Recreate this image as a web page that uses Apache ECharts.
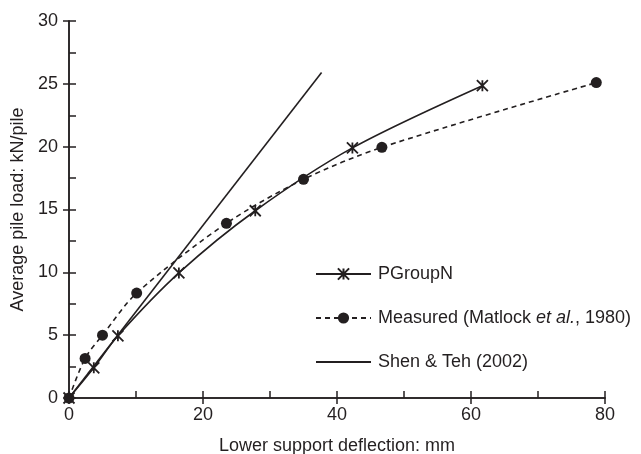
<!DOCTYPE html>
<html>
<head>
<meta charset="utf-8">
<script src="https://cdn.jsdelivr.net/npm/echarts@6/dist/echarts.min.js"></script>
<style>
  html, body { margin: 0; padding: 0; background: #fff; }
  #chart { width: 641px; height: 454px; }
</style>
</head>
<body>
<div id="chart"></div>
<script>
// PGroupN (solid line, asterisks)
const pgroupX = [0, 3.7, 7.3, 16.4, 27.8, 42.3, 61.7]
const pgroupY = [0, 2.4, 4.95, 9.95, 14.9, 19.9, 24.85]
// Measured (Matlock et al., 1980) - dashed, dots
const measX = [0, 2.4, 5.0, 10.1, 23.5, 35.0, 46.7, 78.7]
const measY = [0, 3.15, 5.0, 8.35, 13.9, 17.4, 19.95, 25.1]
// Shen & Teh (2002) - straight line
const shenX = [0, 37.7]
const shenY = [0, 25.9]

const names = ['PGroupN', 'Measured (Matlock et al., 1980)', 'Shen & Teh (2002)']
const ink = '#231f20'
const font = 'Liberation Sans, Arial, sans-serif'
const fs = 18

const pair = (xs, ys) => xs.map((x, i) => [x, ys[i]])
const asterisk = 'path://M0,0L10,10M10,0L0,10M5,0L5,10'

const chart = echarts.init(document.getElementById('chart'))

const baseX = {
  type: 'value',
  min: 0,
  max: 80,
  axisLine: { show: true, onZero: false, lineStyle: { color: ink, width: 1.5 } },
  splitLine: { show: false }
}
const baseY = {
  type: 'value',
  min: 0,
  max: 30,
  axisLine: { show: true, onZero: false, lineStyle: { color: ink, width: 1.5 } },
  splitLine: { show: false }
}

const option = {
  backgroundColor: '#fff',
  animation: false,
  grid: { left: 69, right: 36, top: 21, bottom: 56, containLabel: false, outerBoundsMode: 'none' },
  xAxis: [
    Object.assign({}, baseX, {
      interval: 20,
      axisTick: { show: true, inside: false, length: 6, lineStyle: { color: ink, width: 1.5 } },
      axisLabel: { color: ink, fontSize: fs, fontFamily: font, margin: 8 },
      name: 'Lower support deflection: mm',
      nameLocation: 'middle',
      nameGap: 39,
      nameTextStyle: { color: ink, fontSize: fs, fontFamily: font }
    }),
    Object.assign({}, baseX, {
      interval: 10,
      axisTick: { show: true, inside: true, length: 7, lineStyle: { color: ink, width: 1.5 } },
      axisLabel: { show: false },
      position: 'bottom'
    })
  ],
  yAxis: [
    Object.assign({}, baseY, {
      interval: 5,
      axisTick: { show: true, inside: false, length: 6, lineStyle: { color: ink, width: 1.5 } },
      axisLabel: { color: ink, fontSize: fs, fontFamily: font, margin: 11 },
      name: 'Average pile load: kN/pile',
      nameLocation: 'middle',
      nameGap: 39,
      nameTextStyle: { color: ink, fontSize: fs, fontFamily: font }
    }),
    Object.assign({}, baseY, {
      interval: 2.5,
      axisTick: { show: true, inside: true, length: 7, lineStyle: { color: ink, width: 1.5 } },
      axisLabel: { show: false },
      position: 'left'
    })
  ],
  legend: {
    orient: 'vertical',
    left: 310,
    top: 260,
    itemWidth: 55,
    itemHeight: 14,
    itemGap: 26,
    data: [
      { name: names[0] },
      { name: names[1] },
      { name: names[2], itemStyle: { opacity: 0 } }
    ],
    formatter: (n) => {
      if (n === names[1]) return '{n|Measured (Matlock }{i|et al.}{n|, 1980)}'
      return '{n|' + n + '}'
    },
    textStyle: {
      color: ink,
      fontSize: fs,
      fontFamily: font,
      padding: [0, 0, 0, 2],
      rich: {
        n: { color: ink, fontSize: fs, fontFamily: font, lineHeight: 18 },
        i: { color: ink, fontSize: fs, fontFamily: font, fontStyle: 'italic', lineHeight: 18 }
      }
    }
  },
  series: [
    {
      name: names[0],
      type: 'line',
      smooth: 0.3,
      data: pair(pgroupX, pgroupY),
      symbol: asterisk,
      symbolSize: 11,
      itemStyle: { color: ink, borderColor: ink, borderWidth: 1.8 },
      lineStyle: { color: ink, width: 1.6 },
      z: 3
    },
    {
      name: names[1],
      type: 'line',
      smooth: 0.3,
      data: pair(measX, measY),
      symbol: 'circle',
      symbolSize: 11,
      itemStyle: { color: ink, borderWidth: 0 },
      lineStyle: { color: ink, width: 1.6, type: [5, 4] },
      z: 2
    },
    {
      name: names[2],
      type: 'line',
      data: pair(shenX, shenY),
      symbol: 'none',
      itemStyle: { color: ink },
      lineStyle: { color: ink, width: 1.6 },
      z: 1
    }
  ]
}

chart.setOption(option)
</script>
</body>
</html>
